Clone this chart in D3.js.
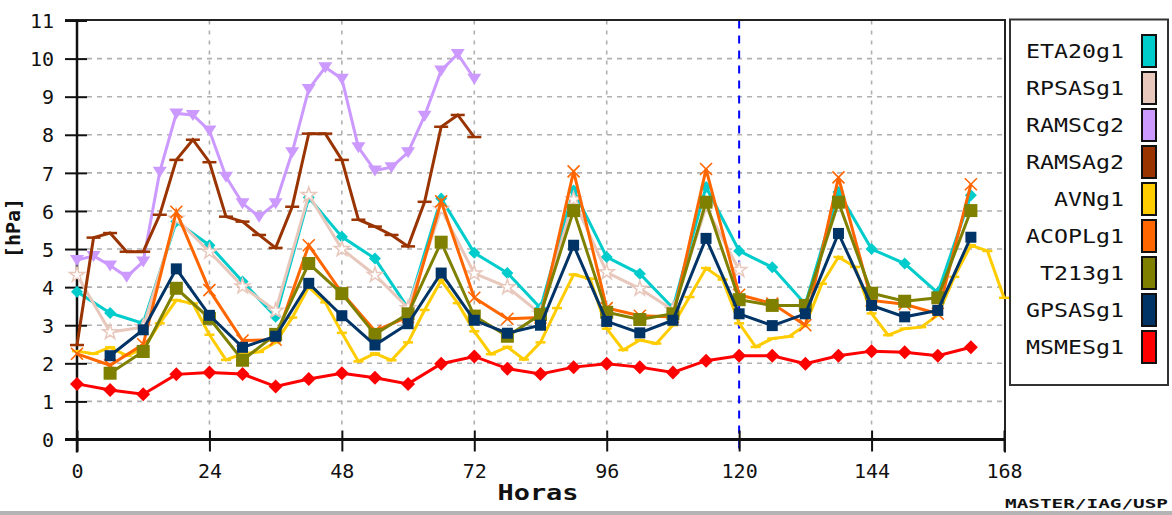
<!DOCTYPE html>
<html><head><meta charset="utf-8">
<script src="https://cdn.jsdelivr.net/npm/d3@7"></script>
<style>
html,body{margin:0;padding:0;background:#fff;}
svg{display:block;}
text{font-family:"DejaVu Sans Mono","Liberation Mono",monospace;fill:#111;}
</style></head>
<body>
<svg id="chart" width="1172" height="515"></svg>
<script>
// ---------- DATA ----------
const hours6 = [0,6,12,18,24,30,36,42,48,54,60,66,72,78,84,90,96,102,108,114,120,126,132,138,144,150,156,162];
const hours6from6 = [6,12,18,24,30,36,42,48,54,60,66,72,78,84,90,96,102,108,114,120,126,132,138,144,150,156,162];
const hours6to120 = [0,6,12,18,24,30,36,42,48,54,60,66,72,78,84,90,96,102,108,114,120];
const hours3to72 = [0,3,6,9,12,15,18,21,24,27,30,33,36,39,42,45,48,51,54,57,60,63,66,69,72];
const hours3to168 = [0,3,6,9,12,15,18,21,24,27,30,33,36,39,42,45,48,51,54,57,60,63,66,69,72,75,78,81,84,87,90,93,96,99,102,105,108,111,114,117,120,123,126,129,132,135,138,141,144,147,150,153,156,159,162,165,168];

const eta20 = [3.88,3.32,3.05,5.72,5.1,4.15,3.22,6.35,5.32,4.75,3.45,6.33,4.9,4.37,3.45,6.54,4.79,4.35,3.45,6.63,4.95,4.52,3.55,6.5,5.0,4.62,3.85,6.41];
const rpsas = [4.32,2.82,2.95,5.8,4.93,4.02,3.38,6.42,5.0,4.32,3.45,6.05,4.36,4.0,3.3,6.3,4.39,3.96,3.4,6.1,4.45];
const ramsc = [4.71,4.82,4.57,4.27,4.67,7.03,8.56,8.52,8.11,6.9,6.2,5.85,6.2,7.54,9.2,9.77,9.47,7.67,7.06,7.15,7.54,8.5,9.69,10.12,9.47];
const ramsa = [2.48,5.3,5.42,4.93,4.93,5.9,7.34,7.87,7.28,5.85,5.72,5.37,5.03,6.11,8.03,8.03,7.34,5.77,5.59,5.37,5.07,6.24,8.21,8.52,7.94];
const avn = [2.32,2.25,2.42,2.2,2.38,3.05,3.66,3.57,2.75,2.09,2.25,2.3,2.55,3.2,4.0,3.6,2.8,2.05,2.26,2.08,2.55,3.4,4.18,3.58,2.84,2.24,2.43,2.1,2.55,3.45,4.33,4.22,2.91,2.35,2.61,2.52,3.0,3.74,4.5,4.2,3.05,2.43,2.65,2.7,3.0,4.09,4.79,4.53,3.31,2.74,2.91,2.95,3.27,4.27,5.1,4.95,3.72];
const acopl = [2.25,1.95,2.5,5.98,3.92,2.6,2.62,5.1,3.85,2.85,3.22,6.25,3.72,3.17,3.2,7.04,3.45,3.25,3.22,7.1,3.8,3.57,3.0,6.88,3.65,3.55,3.3,6.7];
const t213 = [1.74,2.31,3.97,3.18,2.08,2.76,4.62,3.83,2.76,3.3,5.18,3.24,2.71,3.28,6.01,3.34,3.15,3.3,6.23,3.67,3.52,3.52,6.23,3.84,3.63,3.72,6.01];
const gpsas = [2.2,2.88,4.48,3.26,2.42,2.71,4.1,3.25,2.48,3.04,4.37,3.13,2.79,3.0,5.1,3.1,2.8,3.13,5.28,3.3,2.99,3.3,5.41,3.52,3.22,3.39,5.31];
const msmes = [1.46,1.3,1.19,1.71,1.76,1.72,1.39,1.59,1.74,1.62,1.46,1.99,2.18,1.86,1.72,1.9,1.99,1.9,1.76,2.07,2.2,2.2,1.99,2.2,2.32,2.29,2.2,2.42];

const seriesNames = ["ETA20g1","RPSASg1","RAMSCg2","RAMSAg2","AVNg1","ACOPLg1","T213g1","GPSASg1","MSMESg1"];
const seriesColors = ["#00CCCC","#E8C8BC","#CC99FF","#993300","#FFCC00","#FF6600","#808000","#003366","#FF0000"];
const xTicks = [0,24,48,72,96,120,144,168];
const yTicks = [0,1,2,3,4,5,6,7,8,9,10,11];
const markerLine = 120;
const xTitle = "Horas";
const yTitle = "[hPa]";
const credit = "MASTER/IAG/USP";

// ---------- LAYOUT ----------
const svg = d3.select("#chart");
const X0 = 77, X1 = 1004, Y0 = 439.5, Y1 = 20.5;
const x = d3.scaleLinear().domain([0,168]).range([X0,X1]);
const y = d3.scaleLinear().domain([0,11]).range([Y0,Y1]);

// bottom gray band
svg.append("rect").attr("x",0).attr("y",511).attr("width",1172).attr("height",4).attr("fill","#b4b4b4");

// grid
const grid = svg.append("g");
grid.selectAll("line.h").data(yTicks.filter(d=>d>0 && d<11)).join("line")
  .attr("x1",X0+10).attr("x2",X1).attr("y1",d=>y(d)).attr("y2",d=>y(d))
  .attr("stroke","#b0b0b0").attr("stroke-width",1.6).attr("stroke-dasharray","5,5");
grid.selectAll("line.v").data(xTicks.filter(d=>d>0 && d<168 && d!==markerLine)).join("line")
  .attr("x1",d=>x(d)).attr("x2",d=>x(d)).attr("y1",Y1).attr("y2",Y0-9)
  .attr("stroke","#b0b0b0").attr("stroke-width",1.6).attr("stroke-dasharray","4,6");

// blue forecast line
svg.append("line").attr("x1",x(markerLine)).attr("x2",x(markerLine)).attr("y1",Y1).attr("y2",Y0+12)
  .attr("stroke","#0000FF").attr("stroke-width",2).attr("stroke-dasharray","8,7");

// frame
svg.append("line").attr("x1",X0-12).attr("x2",X1+1).attr("y1",Y1-0.5).attr("y2",Y1-0.5).attr("stroke","#222").attr("stroke-width",2);
svg.append("line").attr("x1",X1+1).attr("x2",X1+1).attr("y1",Y1-1.5).attr("y2",Y0+13).attr("stroke","#222").attr("stroke-width",2);

// axes
const yAxis = svg.append("g").attr("transform",`translate(${X0},0)`)
  .call(d3.axisLeft(y).tickValues(yTicks).tickSize(12).tickPadding(11).tickFormat(d3.format("d")));
yAxis.select(".domain").attr("stroke","#111").attr("stroke-width",2.5).attr("d",`M0,${Y1-1}V${Y0+13}`);
yAxis.selectAll(".tick line").attr("x1",10).attr("stroke","#111").attr("stroke-width",2);
yAxis.selectAll(".tick text").style("font-size","20px").style("font-family","DejaVu Sans Mono").attr("fill","#111").attr("dy","0.36em");

const xAxis = svg.append("g").attr("transform",`translate(0,${Y0})`)
  .call(d3.axisBottom(x).tickValues(xTicks).tickSize(12).tickPadding(12).tickFormat(d3.format("d")));
xAxis.select(".domain").attr("stroke","#111").attr("stroke-width",3).attr("d",`M${X0-12},0H${X1+1}`);
xAxis.selectAll(".tick line").attr("y1",-9).attr("stroke","#111").attr("stroke-width",2);
xAxis.selectAll(".tick text").style("font-size","20px").style("font-family","DejaVu Sans Mono").attr("fill","#111");

// titles
svg.append("text").attr("x",538).attr("y",500).attr("text-anchor","middle")
  .style("font-size","22px").style("font-weight","bold").attr("textLength",81).attr("lengthAdjust","spacingAndGlyphs").text(xTitle);
svg.append("text").attr("transform","translate(20,228) rotate(-90)").attr("text-anchor","middle")
  .style("font-size","20px").style("font-weight","bold").text(yTitle);
svg.append("text").attr("x",1168).attr("y",508).attr("text-anchor","end")
  .style("font-size","13px").style("font-weight","bold").attr("textLength",163).attr("lengthAdjust","spacingAndGlyphs").text(credit);

// ---------- SERIES ----------
const seriesData = [
  {h:hours6, v:eta20, m:"diamondS"},
  {h:hours6to120, v:rpsas, m:"star"},
  {h:hours3to72, v:ramsc, m:"tri"},
  {h:hours3to72, v:ramsa, m:"dash"},
  {h:hours3to168, v:avn, m:"dashS"},
  {h:hours6, v:acopl, m:"x"},
  {h:hours6from6, v:t213, m:"sqL"},
  {h:hours6from6, v:gpsas, m:"sqS"},
  {h:hours6, v:msmes, m:"diamondL"}
];
const markerPath = {
  diamondS:"M0,-6L6,0L0,6L-6,0Z",
  diamondL:"M0,-7L7,0L0,7L-7,0Z",
  star:d3.symbol(d3.symbolStar,70)(),
  tri:"M-7,-5L7,-5L0,6Z",
  dash:"M-7,0H7",
  dashS:"M-5,0H5",
  x:"M-6,-6L6,6M-6,6L6,-6",
  sqL:"M-6.5,-6.5H6.5V6.5H-6.5Z",
  sqS:"M-5.5,-5.5H5.5V5.5H-5.5Z"
};
const line = d3.line().x(d=>x(d[0])).y(d=>y(d[1]));
const plot = svg.append("g");
seriesData.forEach((s,i)=>{
  const pts = s.h.map((h,k)=>[h,s.v[k]]);
  const col = seriesColors[i];
  const g = plot.append("g");
  g.append("path").datum(pts).attr("d",line).attr("fill","none").attr("stroke",col)
    .attr("stroke-width",3).attr("stroke-linejoin","miter");
  const stroked = (s.m==="dash"||s.m==="dashS"||s.m==="x"||s.m==="star");
  g.selectAll("path.mk").data(pts).join("path")
    .attr("transform",d=>`translate(${x(d[0])},${y(d[1])})`)
    .attr("d",markerPath[s.m])
    .attr("fill", s.m==="star" ? "#fff" : (stroked ? "none" : col))
    .attr("stroke", stroked ? col : "none")
    .attr("stroke-width", s.m==="x" ? 1.6 : (s.m==="star"?1.5:2.5));
});

// ---------- LEGEND ----------
const leg = svg.append("g");
leg.append("rect").attr("x",1010).attr("y",19.5).attr("width",158).attr("height",365.5)
  .attr("fill","#fff").attr("stroke","#333").attr("stroke-width",2);
seriesNames.forEach((n,i)=>{
  const cy = 51 + i*37;
  leg.append("rect").attr("x",1142).attr("y",cy-16).attr("width",14).attr("height",32)
    .attr("fill",seriesColors[i]).attr("stroke","#111").attr("stroke-width",2);
  leg.append("text").attr("x",1124).attr("y",cy+7).attr("text-anchor","end")
    .style("font-size","20px").attr("textLength",n.length*14).attr("lengthAdjust","spacingAndGlyphs").text(n);
});
</script>
</body></html>
